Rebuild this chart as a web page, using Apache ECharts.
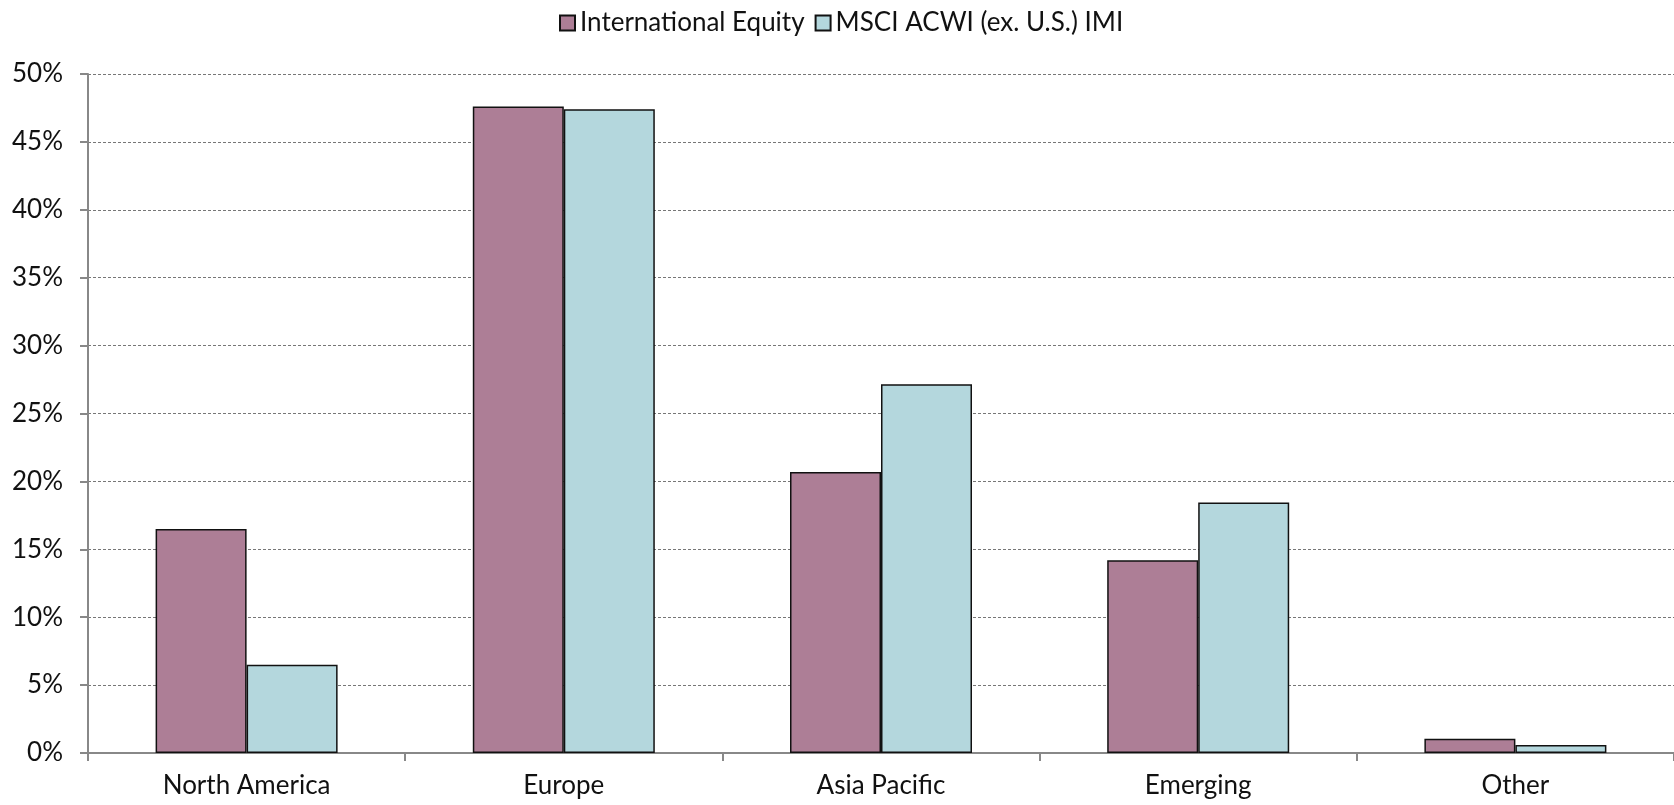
<!DOCTYPE html>
<html>
<head>
<meta charset="utf-8">
<script src="https://cdn.jsdelivr.net/npm/echarts@6/dist/echarts.min.js"></script>
<style>
  html, body { margin: 0; padding: 0; background: #fff; }
  #chart { width: 1674px; height: 805px; }
</style>
</head>
<body>
<div id="chart"></div>
<script>
// Regional allocation, percent of portfolio
const regions = ['North America', 'Europe', 'Asia Pacific', 'Emerging', 'Other'];
const internationalEquity = [16.5, 47.6, 20.7, 14.2, 1.05];
const msciAcwiExUs = [6.5, 47.4, 27.15, 18.45, 0.58];
const seriesNames = ['International Equity', 'MSCI ACWI (ex. U.S.) IMI'];

const FONT = 'Lato, "Open Sans", sans-serif';

const chart = echarts.init(document.getElementById('chart'));
chart.setOption({
  animation: false,
  backgroundColor: '#ffffff',
  legend: {
    top: 5,
    left: 554,
    icon: 'rect',
    itemWidth: 15,
    itemHeight: 15,
    itemGap: 10,
    textStyle: { fontFamily: FONT, fontSize: 26, color: '#111' },
    data: seriesNames
  },
  grid: { left: 88, right: 0, top: 74, bottom: 52, containLabel: false },
  xAxis: {
    type: 'category',
    data: regions,
    axisLine: { lineStyle: { color: '#888', width: 2 } },
    axisTick: { show: true, length: 8, lineStyle: { color: '#888', width: 2 } },
    axisLabel: { fontFamily: FONT, fontSize: 26, color: '#111', margin: 20 }
  },
  yAxis: {
    type: 'value',
    min: 0,
    max: 50,
    interval: 5,
    axisLine: { show: true, lineStyle: { color: '#888', width: 2 } },
    axisTick: { show: true, length: 8, lineStyle: { color: '#888', width: 2 } },
    axisLabel: { formatter: '{value}%', fontFamily: FONT, fontSize: 26, color: '#111', margin: 25 },
    splitLine: { show: true, lineStyle: { color: '#777', type: [3, 2], width: 1 } }
  },
  series: [
    {
      name: seriesNames[0],
      type: 'bar',
      data: internationalEquity,
      barWidth: 91,
      barGap: '0%',
      itemStyle: { color: '#ad7e96', borderColor: '#111', borderWidth: 1.5 }
    },
    {
      name: seriesNames[1],
      type: 'bar',
      data: msciAcwiExUs,
      barWidth: 91,
      barGap: '0%',
      itemStyle: { color: '#b4d7dd', borderColor: '#111', borderWidth: 1.5 }
    }
  ]
});
</script>
</body>
</html>
